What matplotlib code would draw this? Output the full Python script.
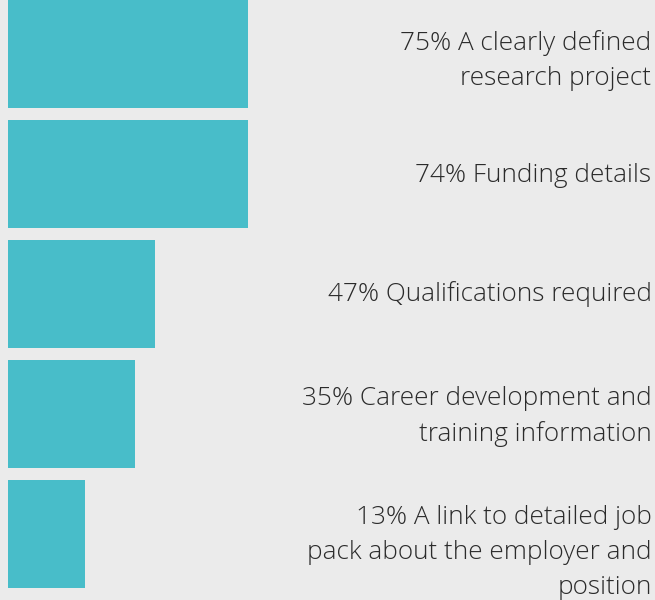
import matplotlib.pyplot as plt
import numpy as np

percents = [75, 74, 47, 35, 13]
labels = ["A clearly defined\nresearch project",
          "Funding details",
          "Qualifications required",
          "Career development and\ntraining information",
          "A link to detailed job\npack about the employer and\nposition"]
bar_sizes = [240, 240, 147, 127, 77]   # bar lengths as drawn (not to scale with %)

teal = "#48bdc9"
bg = "#ebebeb"
txt = "#2b2b2b"

fig = plt.figure(figsize=(6.55, 6.0), dpi=100)
fig.patch.set_facecolor(bg)
ax = fig.add_axes([0, 0, 1, 1])
ax.set_facecolor(bg)

y_pos = np.arange(len(percents)) * 120 + 53.5
ax.barh(y_pos, bar_sizes, height=108, left=0, color=teal, align='center')
ax.set_xlim(-7.5, 647.5)
ax.set_ylim(600, 0)
ax.axis('off')

# nudge for the text blocks, label 5 sits lower than its bar
nudge = [7, 2, 1, 3, 19]
for y, p, lab, dy in zip(y_pos, percents, labels, nudge):
    ax.text(644, y + dy, "{}% {}".format(p, lab), ha='right', va='center',
            multialignment='right', fontsize=18.8, family='Open Sans',
            fontweight='light', color=txt, linespacing=1.52)

fig.savefig("out.png", dpi=100, facecolor=bg)
